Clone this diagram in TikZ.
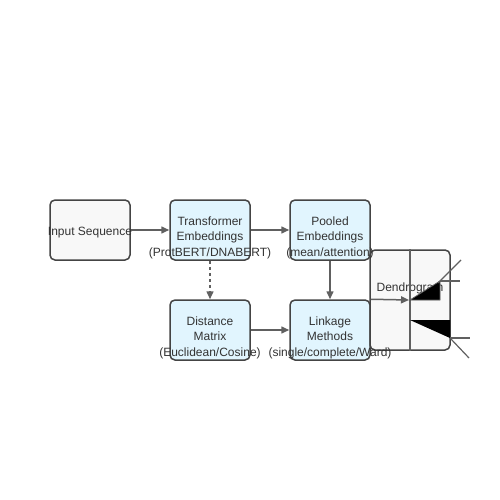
\documentclass[tikz,border=0pt]{standalone}
\usepackage{fontspec}
\setmainfont{Liberation Sans}
\usetikzlibrary{arrows.meta}
\definecolor{boxline}{HTML}{444444}
\definecolor{arrline}{HTML}{606060}
\definecolor{greyfill}{HTML}{F8F8F8}
\definecolor{bluefill}{HTML}{E1F5FE}
\definecolor{txt}{HTML}{333333}
\tikzset{
  stagebox/.style={draw=boxline, line width=1.5pt, rounded corners=5pt,
    minimum width=80pt, minimum height=60pt, inner sep=0pt, fill=bluefill},
  stagetext/.style={text=txt, align=center, inner sep=0pt,
    font=\fontsize{12}{15.5}\selectfont},
  flow/.style={draw=arrline, line width=1.5pt, -{Triangle[length=8pt,width=7pt]}},
  dendroline/.style={draw=arrline, line width=1.2pt}
}
\begin{document}
\begin{tikzpicture}[x=1pt, y=-1pt]
    \useasboundingbox (0,0) rectangle (500,500);

    % boxes
    \node (inp) at (90,230) [stagebox, fill=greyfill] {};
    \node (tra) at (210,230) [stagebox] {};
    \node (poo) at (330,230) [stagebox] {};
    \node (dis) at (210,330) [stagebox] {};
    \node (lin) at (330,330) [stagebox] {};
    \node (den) at (410,300) [stagebox, fill=greyfill, minimum height=100pt] {};

    % box labels
    \node (inp-t) at (90,233) [stagetext] {Input Sequence};
    \node (tra-t) at (210,237.5) [stagetext] {Transformer\\Embeddings\\(ProtBERT/DNABERT)};
    \node (poo-t) at (330,237.5) [stagetext] {Pooled\\Embeddings\\(mean/attention)};
    \node (dis-t) at (210,337.5) [stagetext] {Distance\\Matrix\\(Euclidean/Cosine)};
    \node (lin-t) at (330,337.5) [stagetext] {Linkage\\Methods\\(single/complete/Ward)};
    \node (den-t) at (410,288) [stagetext] {Dendrogram};

    % dendrogram marks
    \coordinate (den-in) at (409,300);
    \draw [dendroline] (den.north) -- (den.south);
    \draw [fill=black, draw=arrline, line width=0.8pt] (410,300) -- (440,281) -- (440,300) -- cycle;
    \draw [fill=black, draw=none] (410,320) -- (450,320) -- (450,338) -- cycle;
    \draw [dendroline] (440,281) -- (460,281);
    \draw [dendroline] (438,283) -- (461,260);
    \draw [dendroline] (450,338) -- (470,338);
    \draw [dendroline] (450,338) -- (469,358);

    % arrows
    \draw [flow] (inp.east) -- (tra.west);
    \draw [flow] (tra.east) -- (poo.west);
    \draw [flow, dash pattern=on 3pt off 3pt] (tra.south) -- (dis.north);
    \draw [flow] (poo.south) -- (lin.north);
    \draw [flow] (dis.east) -- (lin.west);
    \draw [flow] (lin.north east) -- (den-in);

\end{tikzpicture}
\end{document}
